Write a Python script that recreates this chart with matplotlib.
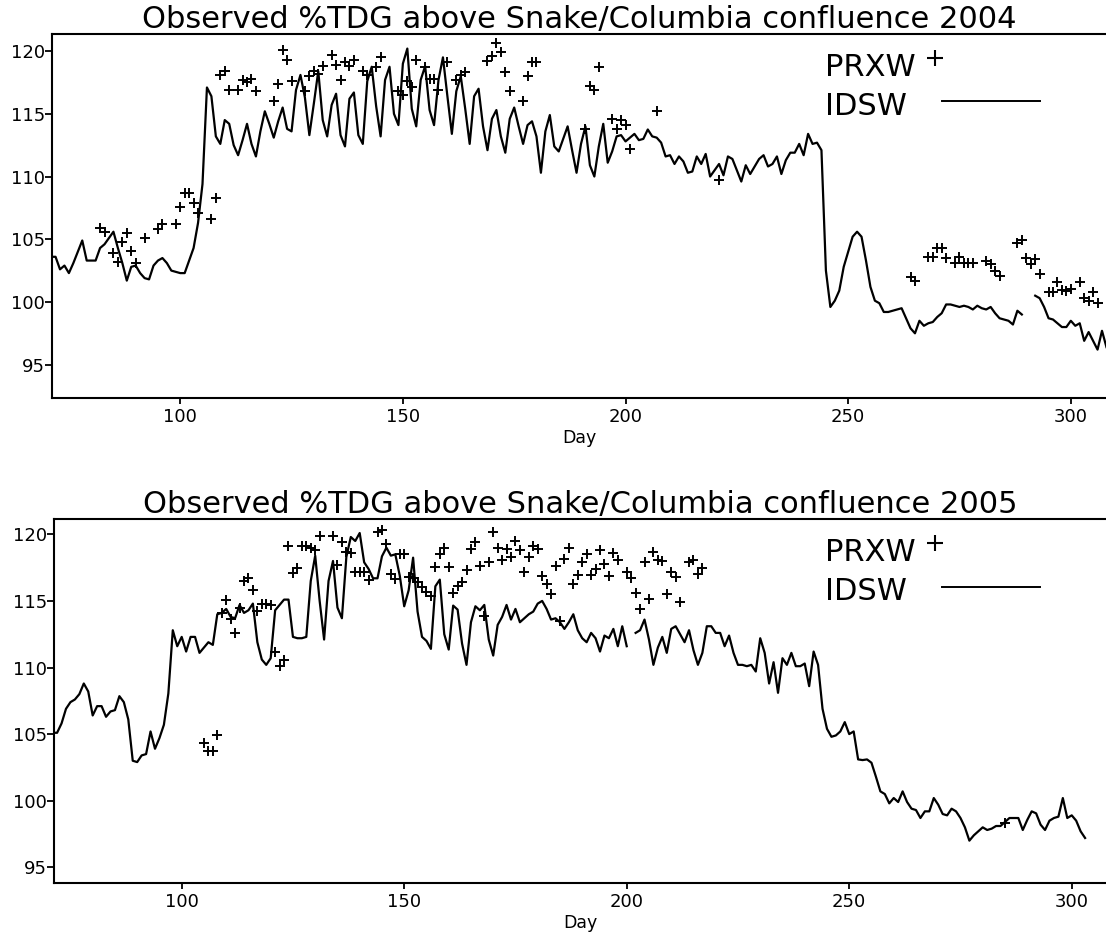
import numpy as np
import matplotlib
matplotlib.use("Agg")
import matplotlib.pyplot as plt

# ---- 2004 ----
idsw_2004_days = np.arange(71, 309)
idsw_2004 = [
    103.6, 103.6, 102.6, 102.9, 102.3, 103.1, 104.0, 104.9, 103.3, 103.3,
    103.3, 104.3, 104.6, 105.1, 105.6, 104.3, 103.1, 101.7, 102.8, 102.9,
    102.3, 101.9, 101.8, 102.9, 103.3, 103.5, 103.1, 102.5, 102.4, 102.3,
    102.3, 103.3, 104.3, 106.3, 109.4, 117.1, 116.4, 113.2, 112.6, 114.5,
    114.2, 112.5, 111.7, 112.9, 114.2, 112.6, 111.6, 113.6, 115.2, 114.2,
    113.1, 114.4, 115.5, 113.8, 113.6, 116.9, 118.1, 116.3, 113.3, 115.8,
    118.4, 114.5, 113.2, 115.7, 116.6, 113.3, 112.4, 116.2, 116.7, 113.3,
    112.6, 117.6, 118.75, 115.6, 113.2, 117.7, 118.75, 115.0, 114.1, 119.0,
    120.2, 115.4, 114.0, 117.7, 118.8, 115.3, 114.1, 117.7, 119.5, 116.4,
    113.4, 116.8, 118.0, 115.4, 112.6, 116.4, 117.0, 114.0, 112.1, 114.6,
    115.3, 113.2, 111.9, 114.6, 115.5, 114.0, 112.6, 114.1, 114.4, 113.2,
    110.3, 113.6, 114.9, 112.4, 112.0, 113.0, 114.0, 112.1, 110.3, 112.6,
    114.0, 110.9, 110.0, 112.4, 114.2, 111.1, 112.0, 113.2, 113.3, 112.8,
    113.1, 113.4, 112.9, 113.0, 113.75, 113.2, 113.1, 112.7, 111.6, 111.7,
    111.0, 111.6, 111.2, 110.3, 110.4, 111.6, 111.0, 111.8, 110.0, 110.5,
    111.0, 110.1, 111.6, 111.4, 110.5, 109.6, 110.9, 110.2, 110.8, 111.4,
    111.7, 110.8, 111.0, 111.6, 110.2, 111.3, 111.9, 111.9, 112.6, 111.7,
    113.4, 112.6, 112.7, 112.1, 102.5, 99.6, 100.1, 100.9, 102.8, 104.0,
    105.2, 105.6, 105.2, 103.3, 101.2, 100.1, 99.9, 99.2, 99.2, 99.3,
    99.4, 99.5, 98.7, 97.9, 97.5, 98.5, 98.1, 98.3, 98.4, 98.8,
    99.1, 99.8, 99.8, 99.7, 99.6, 99.7, 99.6, 99.4, 99.7, 99.5,
    99.4, 99.6, 99.1, 98.7, 98.6, 98.5, 98.2, 99.3, 99.0, np.nan,
    np.nan, 100.5, 100.3, 99.6, 98.7, 98.6, 98.3, 98.0, 98.0, 98.5,
    98.1, 98.3, 96.9, 97.6, 96.9, 96.2, 97.7, 96.4,
]

prxw_2004_days = [
    82, 83, 85, 86, 87, 88, 89, 90, 92, 95, 96, 99, 100, 101, 102, 103, 104,
    107, 108, 109, 110, 111, 113, 114, 115, 116, 117, 121, 122, 123, 124, 125,
    128, 129, 130, 131, 132, 134, 135, 136, 137, 138, 139, 141, 142, 144, 145,
    149, 150, 151, 152, 153, 155, 156, 157, 158, 160, 162, 163, 164, 169, 170,
    171, 172, 173, 174, 177, 178, 179, 180, 191, 192, 193, 194, 197, 198, 199,
    200, 201, 207, 221, 264, 265, 268, 269, 270, 271, 272, 274, 275, 276, 277,
    278, 281, 282, 283, 284, 288, 289, 290, 291, 292, 293, 295, 296, 297, 298,
    299, 300, 302, 303, 304, 305, 306,
]
prxw_2004 = [
    105.9, 105.6, 103.9, 103.2, 104.8, 105.5, 104.1, 103.1, 105.1, 105.8, 106.2,
    106.2, 107.6, 108.7, 108.65, 107.9, 107.1, 106.6, 108.3, 118.1, 118.4, 116.9,
    116.9, 117.7, 117.5, 117.8, 116.8, 116.0, 117.35, 120.1, 119.3, 117.6, 116.8,
    118.0, 118.4, 118.2, 118.8, 119.7, 118.9, 117.7, 119.1, 118.85, 119.3, 118.4,
    118.1, 118.75, 119.5, 116.85, 116.5, 117.65, 117.15, 119.3, 118.75, 117.75,
    117.75, 116.9, 119.1, 117.7, 118.1, 118.35, 119.2, 119.6, 120.65, 119.9,
    118.35, 116.8, 116.0, 118.0, 119.1, 119.1, 113.8, 117.2, 116.9, 118.75,
    114.6, 113.8, 114.5, 114.1, 112.2, 115.2, 109.7, 102.0, 101.7, 103.6, 103.6,
    104.3, 104.3, 103.5, 103.1, 103.6, 103.1, 103.1, 103.1, 103.3, 103.05, 102.5,
    102.1, 104.7, 104.9, 103.5, 103.0, 103.4, 102.2, 100.8, 100.8, 101.6, 100.95,
    100.85, 101.05, 101.6, 100.3, 100.1, 100.8, 99.95,
]

# ---- 2005 ----
idsw_2005_days = np.arange(71, 304)
idsw_2005 = [
    105.1, 105.1, 105.8, 106.9, 107.4, 107.6, 108.0, 108.8, 108.2, 106.4,
    107.1, 107.1, 106.3, 106.7, 106.8, 107.85, 107.4, 106.1, 103.0, 102.9,
    103.4, 103.5, 105.2, 103.9, 104.7, 105.7, 108.05, 112.8, 111.6, 112.3,
    111.2, 112.3, 112.3, 111.1, 111.5, 111.9, 111.7, 114.0, 114.1, 114.4,
    113.8, 113.7, 114.7, 114.1, 114.3, 114.8, 111.9, 110.6, 110.2, 110.7,
    114.3, 114.7, 115.1, 115.1, 112.3, 112.2, 112.2, 112.3, 116.5, 118.4,
    115.0, 112.1, 116.5, 118.0, 114.5, 113.7, 118.3, 119.8, 119.5, 120.1,
    117.9, 117.4, 116.7, 116.7, 118.35, 119.0, 118.4, 118.5, 116.9, 114.6,
    115.8, 118.25, 114.2, 112.3, 112.0, 111.4, 116.1, 116.6, 112.5, 111.35,
    114.65, 114.35, 111.8, 110.2, 113.4, 114.6, 114.3, 114.7, 112.1, 110.9,
    113.2, 113.8, 114.7, 113.6, 114.4, 113.4, 113.7, 114.0, 114.2, 114.8,
    115.0, 114.4, 113.6, 113.7, 113.4, 112.9, 113.4, 114.0, 112.8, 112.2,
    111.9, 112.6, 112.2, 111.2, 112.4, 112.2, 112.9, 111.6, 113.1, 111.6,
    np.nan, 112.6, 112.8, 113.6, 112.1, 110.2, 111.5, 112.3, 111.1, 112.9,
    113.1, 112.5, 111.9, 112.8, 111.3, 110.2, 111.1, 113.1, 113.1, 112.6,
    112.6, 111.6, 112.4, 111.1, 110.2, 110.2, 110.1, 110.2, 109.7, 112.2,
    111.1, 108.8, 110.4, 108.1, 110.7, 110.2, 111.1, 110.1, 110.1, 110.3,
    108.6, 111.2, 110.2, 106.9, 105.4, 104.8, 104.9, 105.2, 105.9, 105.0,
    105.2, 103.1, 103.05, 103.1, 102.85, 101.8, 100.7, 100.5, 99.8, 100.2,
    99.9, 100.7, 99.9, 99.4, 99.3, 98.7, 99.2, 99.2, 100.2, 99.7,
    99.0, 98.9, 99.4, 99.2, 98.7, 98.0, 97.0, 97.4, 97.7, 98.0,
    97.8, 97.9, 98.1, 98.1, 98.4, 98.7, 98.7, 98.7, 97.8, 98.55,
    99.2, 99.05, 98.2, 97.8, 98.5, 98.7, 98.8, 100.2, 98.7, 98.9,
    98.5, 97.7, 97.2,
]

prxw_2005_days = [
    105, 106, 107, 108, 109, 110, 111, 112, 113, 114, 115, 116, 117, 118, 119,
    120, 121, 122, 123, 124, 125, 126, 127, 128, 129, 130, 131, 134, 135, 136,
    137, 138, 139, 140, 141, 142, 144, 145, 146, 147, 148, 149, 150, 151, 152,
    153, 154, 155, 156, 157, 158, 159, 160, 161, 162, 163, 164, 165, 166, 167,
    168, 169, 170, 171, 172, 173, 174, 175, 176, 177, 178, 179, 180, 181, 182,
    183, 184, 185, 186, 187, 188, 189, 190, 191, 192, 193, 194, 195, 196, 197,
    198, 200, 201, 202, 203, 204, 205, 206, 207, 208, 209, 210, 211, 212, 214,
    215, 216, 217, 285,
]
prxw_2005 = [
    104.3, 103.7, 103.7, 104.9, 114.1, 115.1, 113.65, 112.6, 114.5, 116.5, 116.7,
    115.8, 114.25, 114.75, 114.75, 114.7, 111.2, 110.1, 110.6, 119.1, 117.1,
    117.5, 119.1, 119.1, 118.95, 118.8, 119.9, 119.9, 117.7, 119.45, 118.65,
    118.6, 117.2, 117.2, 117.2, 116.6, 120.15, 120.35, 119.3, 117.05, 116.65,
    118.55, 118.55, 116.8, 116.7, 116.4, 116.05, 115.7, 115.4, 117.55, 118.55,
    118.95, 117.55, 115.6, 116.1, 116.4, 117.35, 118.9, 119.4, 117.6, 113.9,
    117.9, 120.2, 119.0, 118.1, 118.9, 118.3, 119.5, 118.8, 117.2, 118.3, 119.1,
    118.9, 116.9, 116.3, 115.5, 117.6, 113.5, 118.15, 119.0, 116.25, 116.95,
    117.9, 118.5, 116.95, 117.4, 118.8, 117.75, 116.9, 118.6, 118.1, 117.2,
    116.75, 115.6, 114.4, 117.9, 115.15, 118.7, 118.1, 118.0, 115.5, 117.2,
    116.8, 114.9, 117.9, 118.1, 117.0, 117.5, 98.3,
]

yticks = [95, 100, 105, 110, 115, 120]
xticks = [100, 150, 200, 250, 300]

plt.rcParams['font.family'] = ['DejaVu Sans']

fig = plt.figure(figsize=(11.06, 9.35), dpi=100)
ax1 = fig.add_axes([0.047, 0.5743, 0.953, 0.3893])
ax2 = fig.add_axes([0.0488, 0.0559, 0.9512, 0.3887])


def panel(ax, days, line, pdays, pvals, year, ylim, xlim):
    ax.plot(days, line, color='black', lw=1.6)
    ax.plot(pdays, pvals, linestyle='none', marker='+', color='black',
            markersize=7.5, markeredgewidth=1.4)
    ax.set_xlim(*xlim)
    ax.set_ylim(*ylim)
    ax.set_xticks(xticks)
    ax.set_yticks(yticks)
    ax.spines['right'].set_visible(False)
    for s in ['left', 'top', 'bottom']:
        ax.spines[s].set_linewidth(1.5)
    ax.tick_params(axis='y', direction='out', length=5, width=1.3, pad=0,
                   labelsize=13)
    ax.tick_params(axis='x', direction='out', length=4.5, width=1.3, pad=3,
                   labelsize=13)
    ax.set_xlabel('Day', fontsize=12.5, labelpad=2)
    ax.set_title('Observed %TDG above Snake/Columbia confluence ' + year,
                 fontsize=22, pad=1)
    # key, drawn the way the original program placed it
    ax.text(0.733, 0.884, 'PRXW', transform=ax.transAxes, fontsize=22,
            va='baseline')
    ax.text(0.733, 0.778, 'IDSW', transform=ax.transAxes, fontsize=22,
            va='baseline')
    ax.plot([0.8378], [0.935], transform=ax.transAxes, marker='+',
            color='black', markersize=11, markeredgewidth=1.5, clip_on=False)
    ax.plot([0.8445, 0.9374], [0.815, 0.815], transform=ax.transAxes,
            color='black', lw=1.4)


panel(ax1, idsw_2004_days, idsw_2004, prxw_2004_days, prxw_2004, '2004',
      (92.34, 121.36), (71.2, 307.9))
panel(ax2, idsw_2005_days, idsw_2005, prxw_2005_days, prxw_2005, '2005',
      (93.84, 121.13), (71.3, 307.7))

fig.savefig('out.png', dpi=100)
